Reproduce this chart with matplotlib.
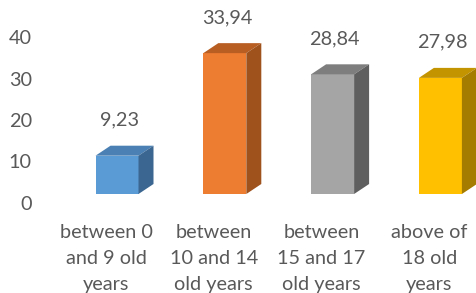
import matplotlib
matplotlib.use("Agg")
import matplotlib.pyplot as plt
from matplotlib.patches import Polygon

categories = ["between 0\nand 9 old\nyears", "between\n10 and 14\nold years",
              "between\n15 and 17\nold years", "above of\n18 old\nyears"]
values = [9.23, 33.94, 28.84, 27.98]
labels = ["9,23", "33,94", "28,84", "27,98"]
yticks = [0, 10, 20, 30, 40]

front = ["#5B9BD5", "#ED7D31", "#A5A5A5", "#FFC000"]
top = ["#4A80B3", "#B85E22", "#7E7E7E", "#C49300"]
side = ["#3A6691", "#A0521D", "#5F5F5F", "#A67C00"]

W, H = 476, 293
fig = plt.figure(figsize=(W / 100, H / 100), dpi=100)
plt.rcParams['font.family'] = ['Lato', 'DejaVu Sans']

# pixel mapping
px_per_unit_y = 4.15
y0_px = 203
px_per_cat = 107.8
x0_px = 117
left_px, bottom_px = 40, 212

ax = fig.add_axes([left_px / W, (H - bottom_px) / H, 1 - left_px / W, bottom_px / H])
ax.set_xlim((left_px - x0_px) / px_per_cat, (W - x0_px) / px_per_cat)
ax.set_ylim(-(bottom_px - y0_px) / px_per_unit_y, y0_px / px_per_unit_y)

base = (y0_px - 194) / px_per_unit_y
w = 43 / px_per_cat
dx = 15 / px_per_cat
dy = 10 / px_per_unit_y
label_shift = 11 / px_per_cat
txt = "#595959"
fs = 14.3

xs = list(range(len(values)))
ax.bar(xs, values, width=w, bottom=base, color=front, zorder=3)
for x, v, t, s, lab in zip(xs, values, top, side, labels):
    l, r = x - w / 2, x + w / 2
    yt = base + v
    ax.add_patch(Polygon([(l, yt), (r, yt), (r + dx, yt + dy), (l + dx, yt + dy)],
                         closed=True, facecolor=t, edgecolor='none', zorder=3))
    ax.add_patch(Polygon([(r, base), (r + dx, base + dy), (r + dx, yt + dy), (r, yt)],
                         closed=True, facecolor=s, edgecolor='none', zorder=3))
    ax.text(x + 0.02, yt + dy + 6.2, lab, ha='center', va='center',
            fontsize=fs, color=txt)

ax.set_yticks(yticks)
ax.set_yticklabels([str(v) for v in yticks], fontsize=fs, color=txt)
ax.set_xticks([x - label_shift for x in xs])
ax.set_xticklabels(categories, fontsize=fs, color=txt, linespacing=1.62)
ax.tick_params(axis='both', length=0)
ax.tick_params(axis='y', pad=6)
ax.tick_params(axis='x', pad=9)
for sp in ax.spines.values():
    sp.set_visible(False)
ax.patch.set_alpha(0)

fig.savefig("out.png", dpi=100)
